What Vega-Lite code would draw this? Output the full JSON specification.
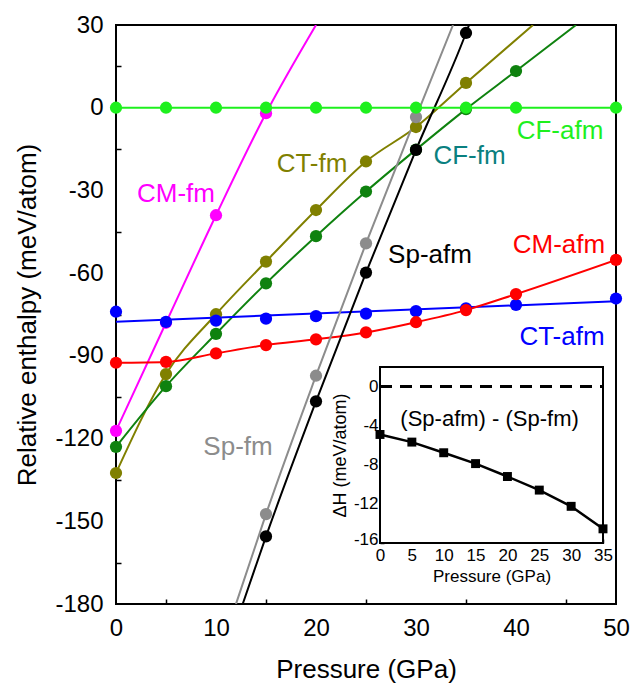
{
  "$schema": "https://vega.github.io/schema/vega-lite/v6.json",
  "width": 500,
  "height": 579,
  "autosize": {"type": "none"},
  "padding": {"left": 116, "top": 25, "right": 25, "bottom": 81},
  "background": "white",
  "config": {
    "font": "Liberation Sans",
    "view": {"stroke": "black", "strokeWidth": 2},
    "axis": {"grid": false, "domain": false, "labelColor": "black", "titleColor": "black", "tickColor": "black", "titleFontWeight": "normal", "labelOverlap": false, "labelFlush": false}
  },
  "datasets": {
    "fit": [
      {"s": "CT-fm", "P": 0, "H": -132.5}, {"s": "CT-fm", "P": 5, "H": -96.6}, {"s": "CT-fm", "P": 10, "H": -74.9}, {"s": "CT-fm", "P": 15, "H": -55.8}, {"s": "CT-fm", "P": 20, "H": -37.1}, {"s": "CT-fm", "P": 25, "H": -19.5}, {"s": "CT-fm", "P": 30, "H": -7.0}, {"s": "CT-fm", "P": 35, "H": 9.0}, {"s": "CT-fm", "P": 41.7, "H": 30},
      {"s": "CF-fm", "P": 0, "H": -123}, {"s": "CF-fm", "P": 5, "H": -101}, {"s": "CF-fm", "P": 10, "H": -82}, {"s": "CF-fm", "P": 15, "H": -63.7}, {"s": "CF-fm", "P": 20, "H": -46.6}, {"s": "CF-fm", "P": 25, "H": -30.4}, {"s": "CF-fm", "P": 30, "H": -15.2}, {"s": "CF-fm", "P": 35, "H": -0.5}, {"s": "CF-fm", "P": 40, "H": 13.3}, {"s": "CF-fm", "P": 46, "H": 30},
      {"s": "CM-fm", "P": 0, "H": -117.2}, {"s": "CM-fm", "P": 5, "H": -78}, {"s": "CM-fm", "P": 10, "H": -39}, {"s": "CM-fm", "P": 15, "H": -2}, {"s": "CM-fm", "P": 20, "H": 30},
      {"s": "CT-afm", "P": 0, "H": -77.6}, {"s": "CT-afm", "P": 50, "H": -70.2},
      {"s": "CM-afm", "P": 0, "H": -92.5}, {"s": "CM-afm", "P": 5, "H": -92.2}, {"s": "CM-afm", "P": 10, "H": -89.1}, {"s": "CM-afm", "P": 15, "H": -86.1}, {"s": "CM-afm", "P": 20, "H": -84.0}, {"s": "CM-afm", "P": 25, "H": -81.5}, {"s": "CM-afm", "P": 30, "H": -77.8}, {"s": "CM-afm", "P": 35, "H": -73.4}, {"s": "CM-afm", "P": 40, "H": -67.6}, {"s": "CM-afm", "P": 50, "H": -55.2},
      {"s": "Sp-fm", "P": 12.0, "H": -180}, {"s": "Sp-fm", "P": 15, "H": -147.4}, {"s": "Sp-fm", "P": 20, "H": -97.2}, {"s": "Sp-fm", "P": 25, "H": -49.2}, {"s": "Sp-fm", "P": 30, "H": -3.4}, {"s": "Sp-fm", "P": 33.7, "H": 30},
      {"s": "Sp-afm", "P": 12.67, "H": -180}, {"s": "Sp-afm", "P": 15, "H": -155.5}, {"s": "Sp-afm", "P": 20, "H": -106.5}, {"s": "Sp-afm", "P": 25, "H": -59.8}, {"s": "Sp-afm", "P": 30, "H": -15.3}, {"s": "Sp-afm", "P": 35, "H": 27.1}, {"s": "Sp-afm", "P": 35.3, "H": 30},
      {"s": "CF-afm", "P": 0, "H": 0}, {"s": "CF-afm", "P": 50, "H": 0}
    ],
    "pts": [
      {"s": "CT-fm", "P": 0, "H": -132.5}, {"s": "CT-fm", "P": 5, "H": -96.6}, {"s": "CT-fm", "P": 10, "H": -74.9}, {"s": "CT-fm", "P": 15, "H": -55.8}, {"s": "CT-fm", "P": 20, "H": -37.1}, {"s": "CT-fm", "P": 25, "H": -19.5}, {"s": "CT-fm", "P": 30, "H": -7.0}, {"s": "CT-fm", "P": 35, "H": 9.0},
      {"s": "CF-fm", "P": 0, "H": -123}, {"s": "CF-fm", "P": 5, "H": -101}, {"s": "CF-fm", "P": 10, "H": -82}, {"s": "CF-fm", "P": 15, "H": -63.7}, {"s": "CF-fm", "P": 20, "H": -46.6}, {"s": "CF-fm", "P": 25, "H": -30.4}, {"s": "CF-fm", "P": 30, "H": -15.2}, {"s": "CF-fm", "P": 35, "H": -0.5}, {"s": "CF-fm", "P": 40, "H": 13.3},
      {"s": "CM-fm", "P": 0, "H": -117.2}, {"s": "CM-fm", "P": 5, "H": -78}, {"s": "CM-fm", "P": 10, "H": -39}, {"s": "CM-fm", "P": 15, "H": -2},
      {"s": "CT-afm", "P": 0, "H": -74.0}, {"s": "CT-afm", "P": 5, "H": -77.7}, {"s": "CT-afm", "P": 10, "H": -77.2}, {"s": "CT-afm", "P": 15, "H": -76.5}, {"s": "CT-afm", "P": 20, "H": -75.6}, {"s": "CT-afm", "P": 25, "H": -74.7}, {"s": "CT-afm", "P": 30, "H": -73.8}, {"s": "CT-afm", "P": 35, "H": -72.8}, {"s": "CT-afm", "P": 40, "H": -71.5}, {"s": "CT-afm", "P": 50, "H": -69.2},
      {"s": "CM-afm", "P": 0, "H": -92.5}, {"s": "CM-afm", "P": 5, "H": -92.2}, {"s": "CM-afm", "P": 10, "H": -89.1}, {"s": "CM-afm", "P": 15, "H": -86.1}, {"s": "CM-afm", "P": 20, "H": -84.0}, {"s": "CM-afm", "P": 25, "H": -81.5}, {"s": "CM-afm", "P": 30, "H": -77.8}, {"s": "CM-afm", "P": 35, "H": -73.4}, {"s": "CM-afm", "P": 40, "H": -67.6}, {"s": "CM-afm", "P": 50, "H": -55.2},
      {"s": "Sp-fm", "P": 15, "H": -147.4}, {"s": "Sp-fm", "P": 20, "H": -97.2}, {"s": "Sp-fm", "P": 25, "H": -49.2}, {"s": "Sp-fm", "P": 30, "H": -3.4},
      {"s": "Sp-afm", "P": 15, "H": -155.5}, {"s": "Sp-afm", "P": 20, "H": -106.5}, {"s": "Sp-afm", "P": 25, "H": -59.8}, {"s": "Sp-afm", "P": 30, "H": -15.3}, {"s": "Sp-afm", "P": 35, "H": 27.1},
      {"s": "CF-afm", "P": 0, "H": 0}, {"s": "CF-afm", "P": 5, "H": 0}, {"s": "CF-afm", "P": 10, "H": 0}, {"s": "CF-afm", "P": 15, "H": 0}, {"s": "CF-afm", "P": 20, "H": 0}, {"s": "CF-afm", "P": 25, "H": 0}, {"s": "CF-afm", "P": 30, "H": 0}, {"s": "CF-afm", "P": 35, "H": 0}, {"s": "CF-afm", "P": 40, "H": 0}, {"s": "CF-afm", "P": 50, "H": 0}
    ],
    "labels": [
      {"t": "CF-afm", "P": 44.4, "H": -8.4},
      {"t": "CF-fm", "P": 35.35, "H": -17.5},
      {"t": "CT-fm", "P": 19.6, "H": -20.4},
      {"t": "CM-fm", "P": 6.0, "H": -31.3},
      {"t": "Sp-afm", "P": 31.4, "H": -53.4},
      {"t": "CM-afm", "P": 44.3, "H": -49.8},
      {"t": "CT-afm", "P": 44.6, "H": -83.1},
      {"t": "Sp-fm", "P": 12.2, "H": -123.0}
    ],
    "inset": [
      {"P": 0, "dH": -4.9}, {"P": 5, "dH": -5.68}, {"P": 10, "dH": -6.77}, {"P": 15, "dH": -7.88},
      {"P": 20, "dH": -9.2}, {"P": 25, "dH": -10.59}, {"P": 30, "dH": -12.25}, {"P": 35, "dH": -14.55}
    ]
  },
  "layer": [
    {
      "layer": [
        {
          "data": {"name": "fit"},
          "mark": {"type": "line", "strokeWidth": 2, "clip": true, "interpolate": "monotone"},
          "encoding": {
            "x": {"field": "P", "type": "quantitative", "scale": {"domain": [0, 50], "nice": false},
              "axis": {"values": [0, 5, 10, 15, 20, 25, 30, 35, 40, 45, 50], "labelExpr": "datum.value % 10 === 0 ? '' + datum.value : ''", "tickSize": -5, "tickWidth": 1.5, "tickOpacity": {"condition": {"test": "datum.value % 10 !== 0", "value": 1}, "value": 0}, "labelFontSize": 24, "labelPadding": 17, "title": "Pressure (GPa)", "titleFontSize": 26, "titlePadding": 16}},
            "y": {"field": "H", "type": "quantitative", "scale": {"domain": [-180, 30], "nice": false, "zero": false},
              "axis": {"values": [-180, -165, -150, -135, -120, -105, -90, -75, -60, -45, -30, -15, 0, 15, 30], "labelExpr": "datum.value % 30 === 0 ? '' + datum.value : ''", "tickSize": -5, "tickWidth": 1.5, "tickOpacity": {"condition": {"test": "datum.value % 30 !== 0", "value": 1}, "value": 0}, "labelFontSize": 24, "labelPadding": 18, "title": "Relative enthalpy (meV/atom)", "titleFontSize": 26, "titlePadding": 14}},
            "color": {"field": "s", "type": "nominal", "legend": null,
              "scale": {"domain": ["CT-fm", "CF-fm", "CM-fm", "CT-afm", "CM-afm", "Sp-fm", "Sp-afm", "CF-afm"], "range": ["#808000", "#0f820f", "#ff00ff", "#0000ff", "#ff0000", "#8c8c8c", "#000000", "#1ef01e"]}}
          }
        },
        {
          "data": {"name": "pts"},
          "mark": {"type": "circle", "size": 150, "opacity": 1},
          "encoding": {
            "x": {"field": "P", "type": "quantitative"},
            "y": {"field": "H", "type": "quantitative"},
            "color": {"field": "s", "type": "nominal", "legend": null}
          }
        },
        {
          "data": {"name": "labels"},
          "mark": {"type": "text", "fontSize": 26, "align": "center", "baseline": "middle"},
          "encoding": {
            "x": {"field": "P", "type": "quantitative"},
            "y": {"field": "H", "type": "quantitative"},
            "text": {"field": "t"},
            "fill": {"field": "t", "type": "nominal", "legend": null,
              "scale": {"domain": ["CF-afm", "CF-fm", "CT-fm", "CM-fm", "Sp-afm", "CM-afm", "CT-afm", "Sp-fm"], "range": ["#1ef01e", "#0a8080", "#808000", "#ff00ff", "#000000", "#ff0000", "#0000ff", "#8c8c8c"]}}
          }
        }
      ]
    },
    {
      "layer": [
        {
          "data": {"values": [{}]},
          "mark": {"type": "rect", "fill": "white", "stroke": "black", "strokeWidth": 2},
          "encoding": {
            "x": {"datum": 0, "type": "quantitative", "scale": {"domain": [0, 35], "range": [264, 487], "nice": false, "zero": false},
              "axis": {"orient": "bottom", "offset": -61, "values": [0, 2.5, 5, 7.5, 10, 12.5, 15, 17.5, 20, 22.5, 25, 27.5, 30, 32.5, 35], "labelExpr": "datum.value % 5 === 0 ? '' + datum.value : ''", "tickSize": {"condition": {"test": "datum.value % 5 === 0", "value": -4}, "value": -2}, "tickWidth": 1.5, "labelFontSize": 17, "labelPadding": 8, "title": "Pressure (GPa)", "titleFontSize": 17, "titlePadding": 5}},
            "x2": {"datum": 35},
            "y": {"datum": -16, "type": "quantitative", "scale": {"domain": [-16, 2], "range": [518, 342], "nice": false, "zero": false},
              "axis": {"orient": "left", "offset": -264, "values": [-16, -14, -12, -10, -8, -6, -4, -2, 0, 2], "labelExpr": "datum.value % 4 === 0 ? '' + datum.value : ''", "labelOffset": {"condition": {"test": "datum.value === -16", "value": -4}, "value": 0}, "tickSize": {"condition": {"test": "datum.value % 4 === 0", "value": -4}, "value": -2}, "tickWidth": 1.5, "labelFontSize": 17, "labelPadding": 6, "title": "ΔH (meV/atom)", "titleFontSize": 18, "titlePadding": 4}},
            "y2": {"datum": 2}
          }
        },
        {
          "data": {"values": [{}]},
          "mark": {"type": "rule", "strokeDash": [12, 8], "strokeWidth": 3, "color": "black"},
          "encoding": {
            "x": {"datum": 0, "type": "quantitative"},
            "x2": {"datum": 35},
            "y": {"datum": 0, "type": "quantitative"}
          }
        },
        {
          "data": {"name": "inset"},
          "mark": {"type": "line", "strokeWidth": 2.5, "color": "black"},
          "encoding": {
            "x": {"field": "P", "type": "quantitative"},
            "y": {"field": "dH", "type": "quantitative"}
          }
        },
        {
          "data": {"name": "inset"},
          "mark": {"type": "square", "size": 80, "color": "black", "opacity": 1},
          "encoding": {
            "x": {"field": "P", "type": "quantitative"},
            "y": {"field": "dH", "type": "quantitative"}
          }
        },
        {
          "data": {"values": [{"t": "(Sp-afm) - (Sp-fm)", "P": 17.2, "dH": -3.3}]},
          "mark": {"type": "text", "fontSize": 22, "align": "center", "baseline": "middle", "color": "black"},
          "encoding": {
            "x": {"field": "P", "type": "quantitative"},
            "y": {"field": "dH", "type": "quantitative"},
            "text": {"field": "t"}
          }
        }
      ]
    }
  ],
  "resolve": {"scale": {"x": "independent", "y": "independent"}, "axis": {"x": "independent", "y": "independent"}}
}
